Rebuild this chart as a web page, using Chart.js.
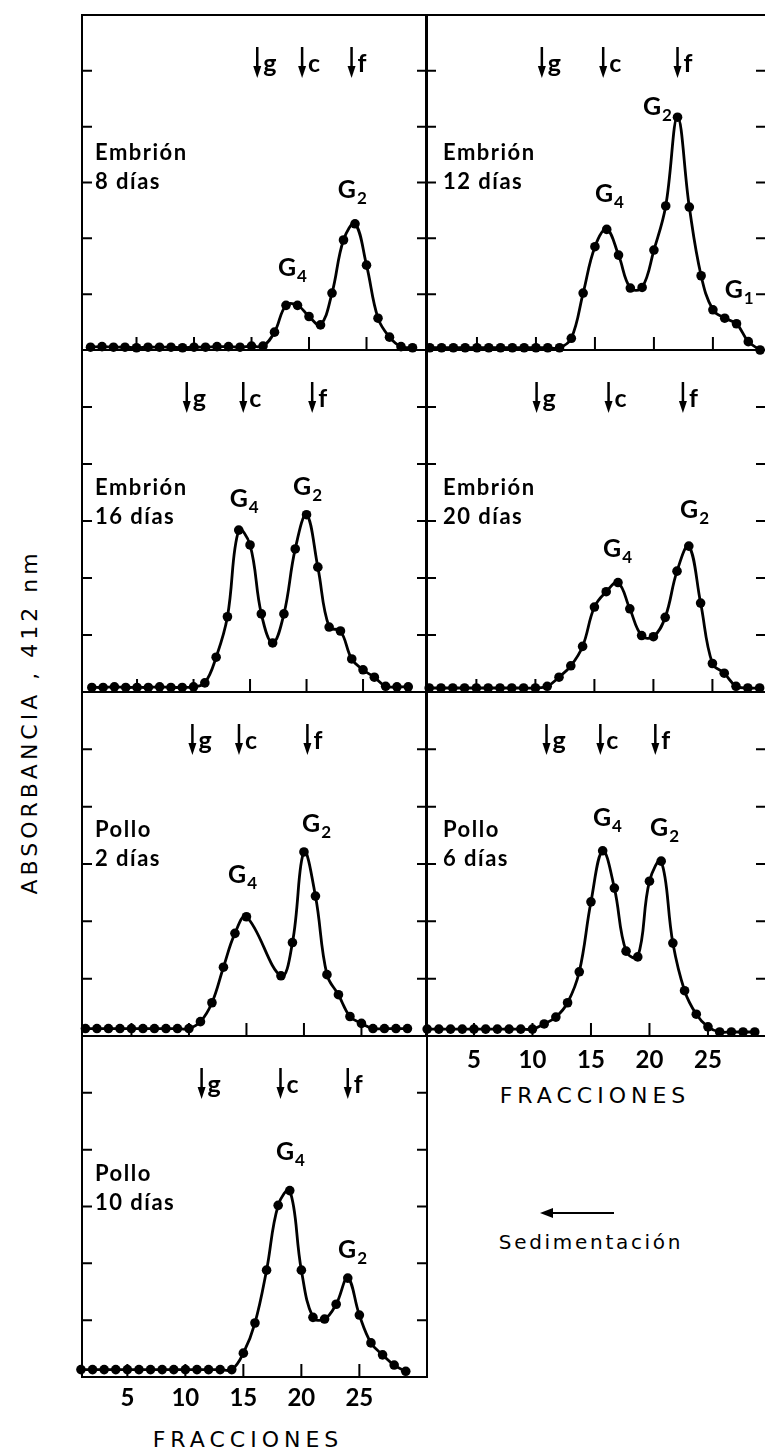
<!DOCTYPE html>
<html>
<head>
<meta charset="utf-8">
<script src="https://cdn.jsdelivr.net/npm/chart.js@4.4.1/dist/chart.umd.min.js"></script>
<style>
html, body { margin: 0; padding: 0; background: #fff; overflow: hidden; }
body { width: 765px; height: 1453px; position: relative; font-family: "DejaVu Sans", sans-serif; color: #000; }
canvas { position: absolute; }
.lbl { position: absolute; white-space: nowrap; font-size: 22px; line-height: 22px; letter-spacing: 5px; }
</style>
</head>
<body>
<div class="lbl" style="left:30px; top:722px; transform:translate(-50%,-50%) rotate(-90deg); letter-spacing:4px;">ABSORBANCIA , 412 nm</div>
<div class="lbl" style="left:248px; top:1429px; transform:translateX(-50%);">FRACCIONES</div>
<div class="lbl" style="left:595px; top:1085px; transform:translateX(-50%);">FRACCIONES</div>
<svg style="position:absolute; left:540px; top:1206px;" width="76" height="14">
  <line x1="10" y1="7" x2="74" y2="7" stroke="#000" stroke-width="2"/>
  <polygon points="0,7 13,2 13,12" fill="#000"/>
</svg>
<div class="lbl" style="left:591px; top:1231px; transform:translateX(-50%); font-size:20px; letter-spacing:2.7px;">Sedimentación</div>

<script>
// fracciones del gradiente
const fractions = [1, 2, 3, 4, 5, 6, 7, 8, 9, 10, 11, 12, 13, 14, 15, 16, 17, 18, 19, 20, 21, 22, 23, 24, 25, 26, 27, 28, 29];
const xTickValues = [5, 10, 15, 20, 25];
const yTickValues = [1, 2, 3, 4, 5];
const markerNames = ['g', 'c', 'f'];

// absorbancia a 412 nm, una serie por edad
const embrion8 = [0.05, 0.06, 0.05, 0.05, 0.04, 0.05, 0.05, 0.05, 0.04, 0.05, 0.05, 0.06, 0.06, 0.05, 0.07, 0.07,
    0.32, 0.80, 0.80, 0.60, 0.45, 1.02, 1.97, 2.26, 1.52, 0.57, 0.23, 0.06, 0.04];
const embrion12 = [0.04, 0.04, 0.04, 0.04, 0.04, 0.04, 0.04, 0.04, 0.04, 0.04, 0.04, 0.04,
    0.21, 1.02, 1.85, 2.16, 1.70, 1.11, 1.12, 1.79, 2.58, 4.17, 2.56, 1.33, 0.72, 0.57, 0.47, 0.15, 0.00];
const embrion16 = [0.08, 0.08, 0.09, 0.08, 0.08, 0.08, 0.09, 0.08, 0.08, 0.09,
    0.16, 0.61, 1.32, 2.84, 2.58, 1.37, 0.86, 1.37, 2.51, 3.11, 2.19, 1.14, 1.07, 0.58, 0.39, 0.26, 0.10, 0.09, 0.09];
const embrion20 = [0.07, 0.07, 0.07, 0.07, 0.07, 0.07, 0.07, 0.07, 0.07, 0.07,
    0.10, 0.26, 0.46, 0.80, 1.49, 1.76, 1.92, 1.46, 0.99, 0.97, 1.31, 2.12, 2.56, 1.56, 0.50, 0.33, 0.10, 0.07, 0.07];
const pollo2 = [0.13, 0.13, 0.13, 0.13, 0.13, 0.13, 0.13, 0.13, 0.13, 0.13,
    0.25, 0.58, 1.20, 1.79, 2.08, null, null, 1.05, 1.63, 3.21, 2.44, 1.07, 0.72, 0.34, 0.22, 0.13, 0.13, 0.13, 0.13];
const pollo6 = [0.12, 0.12, 0.12, 0.12, 0.12, 0.12, 0.12, 0.12, 0.12, 0.12,
    0.21, 0.33, 0.58, 1.12, 2.34, 3.23, 2.58, 1.48, 1.38, 2.70, 3.05, 1.62, 0.79, 0.38, 0.16, 0.07, 0.07, 0.07, 0.07];
const pollo10 = [0.13, 0.13, 0.13, 0.13, 0.13, 0.13, 0.13, 0.13, 0.13, 0.13, 0.13, 0.13, 0.13, 0.13,
    0.42, 0.95, 1.88, 3.02, 3.28, 1.88, 1.05, 1.02, 1.28, 1.74, 1.09, 0.60, 0.39, 0.21, 0.10];

// marcadores g, c, f (fraccion)
const markersE8 = [15.5, 19.4, 23.7];
const markersE12 = [10.5, 15.7, 22.0];
const markersE16 = [9.4, 14.4, 20.5];
const markersE20 = [10.1, 16.2, 22.5];
const markersP2 = [10.3, 14.35, 20.3];
const markersP6 = [11.2, 15.8, 20.5];
const markersP10 = [11.4, 18.2, 24.0];

// etiquetas de picos: [texto, subindice, fraccion, absorbancia]
const peaksE8 = [['G', '4', 17.3, 1.33], ['G', '2', 22.5, 2.72]];
const peaksE12 = [['G', '4', 15.0, 2.65], ['G', '2', 19.07, 4.21], ['G', '1', 26.0, 0.93]];
const peaksE16 = [['G', '4', 13.2, 3.25], ['G', '2', 18.8, 3.46]];
const peaksE20 = [['G', '4', 15.73, 2.37], ['G', '2', 22.26, 3.05]];
const peaksP2 = [['G', '4', 13.4, 2.67], ['G', '2', 19.83, 3.56]];
const peaksP6 = [['G', '4', 15.17, 3.66], ['G', '2', 20.05, 3.49]];
const peaksP10 = [['G', '4', 17.81, 3.81], ['G', '2', 23.16, 2.09]];

const FONT = 'Lato, "DejaVu Sans", sans-serif';
const cols = [[82, 427], [426, 766]];
const rows = [[15, 350], [350, 692], [692, 1036], [1036, 1377]];
const PAD = 12;
const AXIS_H = 40;

const panels = [
    { col: 0, row: 0, values: embrion8, title: ['Embrión', '8 días'], markers: markersE8, peaks: peaksE8, xMin: 0.26, xMax: 30.26 },
    { col: 1, row: 0, values: embrion12, title: ['Embrión', '12 días'], markers: markersE12, peaks: peaksE12, xMin: 0.68, xMax: 29.5 },
    { col: 0, row: 1, values: embrion16, title: ['Embrión', '16 días'], markers: markersE16, peaks: peaksE16, xMin: 0.13, xMax: 30.66 },
    { col: 1, row: 1, values: embrion20, title: ['Embrión', '20 días'], markers: markersE20, peaks: peaksE20, xMin: 0.73, xMax: 29.54 },
    { col: 0, row: 2, values: pollo2, title: ['Pollo', '2 días'], markers: markersP2, peaks: peaksP2, xMin: 0.7, xMax: 30.7 },
    { col: 1, row: 2, values: pollo6, title: ['Pollo', '6 días'], markers: markersP6, peaks: peaksP6, xMin: 0.9, xMax: 29.96, axis: true, axisPad: 10 },
    { col: 0, row: 3, values: pollo10, title: ['Pollo', '10 días'], markers: markersP10, peaks: peaksP10, xMin: 1.09, xMax: 30.83, axis: true, axisPad: 7 }
];

function decor(p) {
    return {
        id: 'decor',
        beforeDatasetsDraw(chart) {
            const { ctx, chartArea: a, scales: { x, y } } = chart;
            ctx.save();
            ctx.strokeStyle = '#000';
            ctx.lineWidth = 2;
            ctx.strokeRect(a.left, a.top, a.right - a.left, a.bottom - a.top);
            ctx.beginPath();
            yTickValues.forEach(v => {
                const py = y.getPixelForValue(v);
                ctx.moveTo(a.left, py); ctx.lineTo(a.left + 10, py);
                ctx.moveTo(a.right, py); ctx.lineTo(a.right - 10, py);
            });
            xTickValues.forEach(v => {
                const px = x.getPixelForValue(v);
                ctx.moveTo(px, a.bottom); ctx.lineTo(px, a.bottom - 13);
            });
            ctx.stroke();
            ctx.restore();
        },
        afterDatasetsDraw(chart) {
            const { ctx, chartArea: a, scales: { x, y } } = chart;
            ctx.save();
            ctx.fillStyle = '#000';
            ctx.strokeStyle = '#000';
            ctx.textBaseline = 'alphabetic';
            ctx.textAlign = 'left';
            ctx.font = 'bold 22px ' + FONT;
            ctx.letterSpacing = '1.5px';
            const tx = a.left + (p.col === 0 ? 13 : 17);
            ctx.fillText(p.title[0], tx, a.top + 145);
            ctx.fillText(p.title[1], tx, a.top + 174);

            // flechas de los marcadores
            ctx.letterSpacing = '0px';
            ctx.font = 'bold 25px ' + FONT;
            p.markers.forEach((m, i) => {
                const px = x.getPixelForValue(m);
                ctx.lineWidth = 2.5;
                ctx.beginPath();
                ctx.moveTo(px, a.top + 32);
                ctx.lineTo(px, a.top + 55);
                ctx.stroke();
                ctx.beginPath();
                ctx.moveTo(px - 4, a.top + 51);
                ctx.lineTo(px + 4, a.top + 51);
                ctx.lineTo(px, a.top + 63);
                ctx.closePath();
                ctx.fill();
                ctx.fillText(markerNames[i], px + 6, a.top + 57);
            });

            // etiquetas G
            p.peaks.forEach(([t, s, fx, fy]) => {
                const px = x.getPixelForValue(fx);
                const py = y.getPixelForValue(fy);
                ctx.font = 'bold 25px ' + FONT;
                ctx.fillText(t, px, py);
                const w = ctx.measureText(t).width;
                ctx.font = 'bold 17px ' + FONT;
                ctx.fillText(s, px + w + 1, py + 6);
            });
            ctx.restore();
        }
    };
}

panels.forEach(p => {
    const [l, r] = cols[p.col];
    const [t, b] = rows[p.row];
    const cv = document.createElement('canvas');
    cv.width = (r - l) + 2 * PAD;
    cv.height = (b - t) + PAD + (p.axis ? AXIS_H : PAD);
    cv.style.left = (l - PAD) + 'px';
    cv.style.top = (t - PAD) + 'px';
    document.body.appendChild(cv);

    const points = fractions.map((f, i) => ({ x: f, y: p.values[i] }));

    const xScale = {
        type: 'linear',
        min: p.xMin,
        max: p.xMax,
        display: !!p.axis,
        grid: { display: false, drawTicks: false },
        border: { display: false },
        afterBuildTicks: s => { s.ticks = xTickValues.map(v => ({ value: v })); },
        ticks: {
            font: { family: FONT, size: 24, weight: 'bold' },
            color: '#000',
            padding: p.axisPad || 0,
            autoSkip: false,
            maxRotation: 0
        }
    };
    if (p.axis) {
        xScale.afterFit = s => { s.height = AXIS_H; };
    }

    new Chart(cv, {
        type: 'line',
        data: {
            datasets: [{
                data: points,
                borderColor: '#000',
                borderWidth: 2.8,
                pointRadius: 4.8,
                pointBackgroundColor: '#000',
                pointBorderWidth: 0,
                tension: 0.4,
                spanGaps: true,
                clip: false
            }]
        },
        options: {
            responsive: false,
            animation: false,
            events: [],
            layout: { padding: { left: PAD, right: PAD, top: PAD, bottom: p.axis ? 0 : PAD } },
            plugins: { legend: { display: false }, tooltip: { enabled: false } },
            scales: {
                x: xScale,
                y: { min: 0, max: 6, display: false }
            }
        },
        plugins: [decor(p)]
    });
});
</script>
</body>
</html>
